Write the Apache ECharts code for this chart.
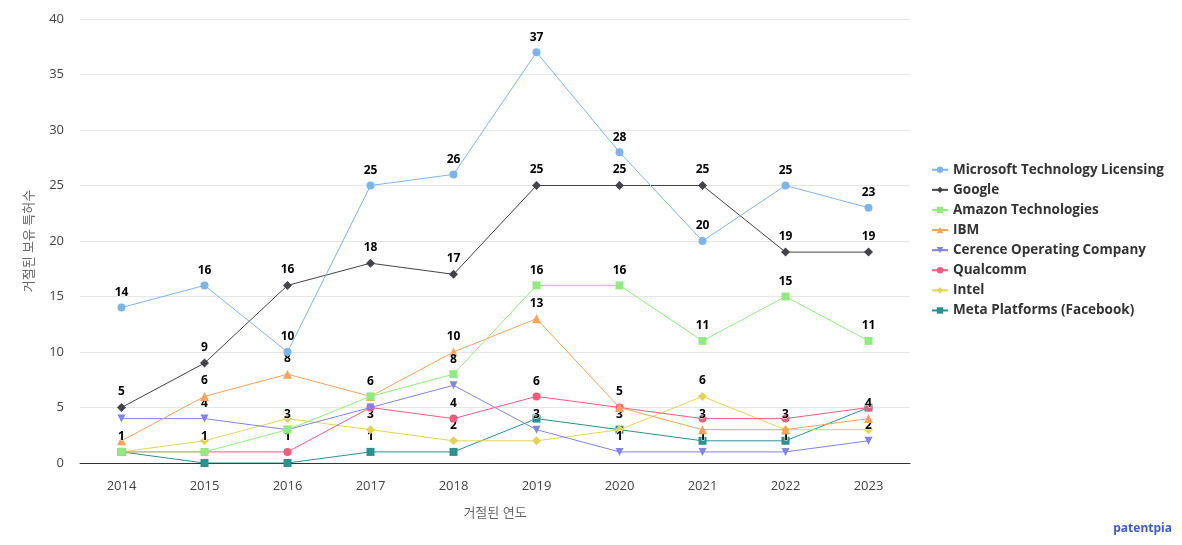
<!DOCTYPE html>
<html><head><meta charset="utf-8">
<script src="https://cdn.jsdelivr.net/npm/echarts@6/dist/echarts.min.js"></script>
<style>html,body{margin:0;padding:0;background:#fff}#c{width:1182px;height:545px}</style>
</head><body><div id="c"></div>
<script>
const years = ['2014','2015','2016','2017','2018','2019','2020','2021','2022','2023'];
const microsoft = [14,16,10,25,26,37,28,20,25,23];
const google = [5,9,16,18,17,25,25,25,19,19];
const amazon = [1,1,3,6,8,16,16,11,15,11];
const ibm = [2,6,8,6,10,13,5,3,3,4];
const cerence = [4,4,3,5,7,3,1,1,1,2];
const qualcomm = [1,1,1,5,4,6,5,4,4,5];
const intel = [1,2,4,3,2,2,3,6,3,3];
const meta = [1,0,0,1,1,4,3,2,2,5];
const yTicks = [0,5,10,15,20,25,30,35,40];

const names = ['Microsoft Technology Licensing','Google','Amazon Technologies','IBM','Cerence Operating Company','Qualcomm','Intel','Meta Platforms (Facebook)'];
const datas = [microsoft,google,amazon,ibm,cerence,qualcomm,intel,meta];
const colors = ['#7cb5ec','#434348','#90ed7d','#f7a35c','#8085e9','#f15c80','#e4d354','#2b908f'];
const symbols = ['circle','diamond','rect','triangle','path://M0,0 L10,0 L5,10 Z','circle','diamond','rect'];
const sizes = [8,9,8,9,8,8,9,8];
const font = "'Open Sans','Noto Sans CJK KR',sans-serif";

// Label overlap hiding in series order (earlier series win), per category.
const shown = datas.map(d => d.map(() => false));
years.forEach((y, j) => {
  const kept = [];
  datas.forEach((d, i) => {
    const v = d[j];
    if (!kept.some(k => Math.abs(k - v) <= 1)) { kept.push(v); shown[i][j] = true; }
  });
});

const chart = echarts.init(document.getElementById('c'));
chart.setOption({
  animation:false,
  color:colors,
  textStyle:{fontFamily:font},
  grid:{left:80,right:272,top:19,bottom:82},
  legend:{
    orient:'vertical', left:926, top:158,
    itemWidth:16, itemHeight:8, itemGap:6.6,
    textStyle:{fontSize:13.5,fontWeight:'bold',color:'#333',fontFamily:font},
    data:names
  },
  xAxis:{
    type:'category', data:years, boundaryGap:true,
    name:'거절된 연도', nameLocation:'middle', nameGap:44,
    nameTextStyle:{fontSize:13,color:'#666',fontFamily:font},
    axisLine:{lineStyle:{color:'#333',width:1}},
    axisTick:{show:false},
    axisLabel:{fontSize:13,color:'#444',margin:17}
  },
  yAxis:{
    type:'value', min:0, max:40, interval:5,
    name:'거절된 보유 특허수', nameLocation:'middle', nameGap:44,
    nameTextStyle:{fontSize:13,color:'#666',fontFamily:font},
    axisLine:{show:false}, axisTick:{show:false},
    axisLabel:{fontSize:13,color:'#444',margin:16,
      formatter:v=>yTicks.includes(v)?String(v):''},
    splitLine:{lineStyle:{color:'#e6e6e6'}}
  },
  series:names.map((n,i)=>({
    name:n, type:'line',
    data:datas[i].map((v,j)=>({value:v,label:{show:shown[i][j]}})),
    symbol:symbols[i], symbolSize:sizes[i],
    lineStyle:{width:1,color:colors[i]},
    itemStyle:{color:colors[i]},
    label:{show:true,position:'top',distance:5,fontSize:12,fontWeight:'bold',color:'#000',
      fontFamily:font,textBorderColor:'#fff',textBorderWidth:1},
    z:10-i
  })),
  graphic:[{type:'text',right:10,bottom:10,style:{text:'patentpia',fill:'#3a5fcd',font:"bold 12px 'Open Sans',sans-serif"}}]
});
</script></body></html>
